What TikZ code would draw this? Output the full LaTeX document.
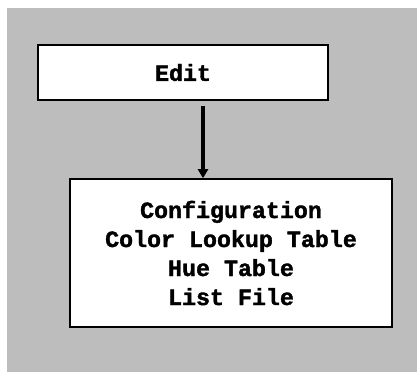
\documentclass[tikz,border=0pt]{standalone}
\usepackage{fontspec}
\newfontfamily\heavymono[FakeBold=1.6]{Liberation Mono}
\usetikzlibrary{arrows.meta}
\tikzset{
  box/.style={draw=black, line width=1.6pt, fill=white, inner sep=0pt, font=\heavymono\bfseries\fontsize{23.3}{29}\selectfont},
  link/.style={line width=3.6pt, -{Triangle[length=9pt,width=10pt]}}
}
\begin{document}
\begin{tikzpicture}[x=1pt,y=-1pt]
  \useasboundingbox (0,0) rectangle (417,376);
  % halftone-like grey backdrop
  \fill[black!26] (7,8) rectangle (417,372);
  \node[box, minimum width=290pt, minimum height=55pt] (edit) at (183,72.5) {Edit};
  \node[box, minimum width=322pt, minimum height=148pt, align=center] (files) at (231,253)
    {Configuration\\Color Lookup Table\\Hue Table\\List File};
  \coordinate (top) at (203,106);
  \draw[link] (top) -- (files.north -| top);
\end{tikzpicture}
\end{document}
